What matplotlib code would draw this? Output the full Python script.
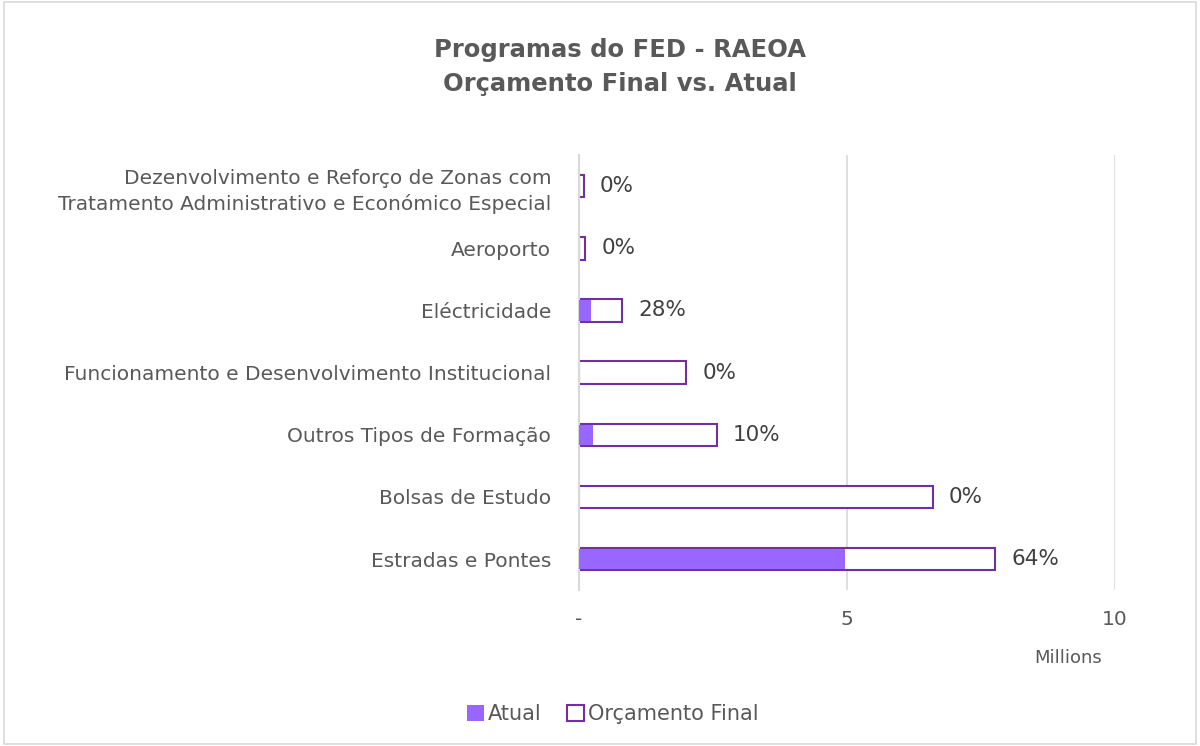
import matplotlib.pyplot as plt
import matplotlib.patches as mpatches
import numpy as np

plt.rcParams['font.family'] = ['DejaVu Sans']

categorias = ['Estradas e Pontes', 'Bolsas de Estudo', 'Outros Tipos de Formação',
              'Funcionamento e Desenvolvimento Institucional', 'Eléctricidade', 'Aeroporto',
              'Dezenvolvimento e Reforço de Zonas com\nTratamento Administrativo e Económico Especial']
orcamento_final = [7.76, 6.6, 2.57, 2.0, 0.8, 0.12, 0.09]
atual = [4.97, 0.0, 0.26, 0.0, 0.22, 0.0, 0.0]
percentagens = ['64%', '0%', '10%', '0%', '28%', '0%', '0%']

roxo = '#7030A0'
lilas = '#9966FF'
cinza = '#595959'

fig = plt.figure(figsize=(12, 7.46), dpi=100)
ax = fig.add_axes([0.4825, 0.209, 0.4467, 0.583])

y = np.arange(len(categorias))
h = 0.36
ax.barh(y, orcamento_final, height=h, color='white', edgecolor=roxo, linewidth=1.5, zorder=2)
ax.barh(y, atual, height=h - 0.03, color=lilas, edgecolor='none', zorder=3)

for i, v in enumerate(orcamento_final):
    ax.text(v + 0.3, i, percentagens[i], va='center', ha='left', fontsize=15.5, color='#404040')

ax.set_xlim(0, 10)
ax.set_ylim(-0.5, len(categorias) - 0.5)
ax.set_yticks(y)
ax.set_yticklabels(categorias, fontsize=14.5, color=cinza, linespacing=1.4)
ax.set_xticks([0, 5, 10])
ax.set_xticklabels(['-', '5', '10'], fontsize=14.5, color=cinza)
ax.tick_params(axis='y', length=0, pad=20)
ax.tick_params(axis='x', length=0, pad=14)
ax.xaxis.grid(True, color='#D9D9D9', linewidth=1.2, zorder=0)
ax.set_axisbelow(True)
for s in ['top', 'right', 'bottom']:
    ax.spines[s].set_visible(False)
ax.spines['left'].set_color('#D9D9D9')
ax.spines['left'].set_linewidth(1.5)

fig.text(1068 / 1200, 1 - 658 / 746, 'Millions', ha='center', va='center', fontsize=13, color=cinza)
fig.text(620 / 1200, 1 - 67 / 746, 'Programas do FED - RAEOA\nOrçamento Final vs. Atual', ha='center',
         va='center', fontsize=17.5, fontweight='bold', color=cinza, linespacing=1.55)

handles = [mpatches.Patch(facecolor=lilas, edgecolor='none', label='Atual'),
           mpatches.Patch(facecolor='white', edgecolor=roxo, linewidth=1.5, label='Orçamento Final')]
leg = fig.legend(handles=handles, loc='center', bbox_to_anchor=(613 / 1200, 1 - 714 / 746), ncol=2,
                 frameon=False, fontsize=15, handlelength=0.8, handleheight=0.8,
                 handletextpad=0.2, columnspacing=1.2)
for t in leg.get_texts():
    t.set_color(cinza)

fig.patches.append(mpatches.Rectangle((0.003, 0.003), 0.994, 0.994, transform=fig.transFigure,
                                      fill=False, edgecolor='#D9D9D9', linewidth=1.2))

fig.savefig('out.png', dpi=100)
